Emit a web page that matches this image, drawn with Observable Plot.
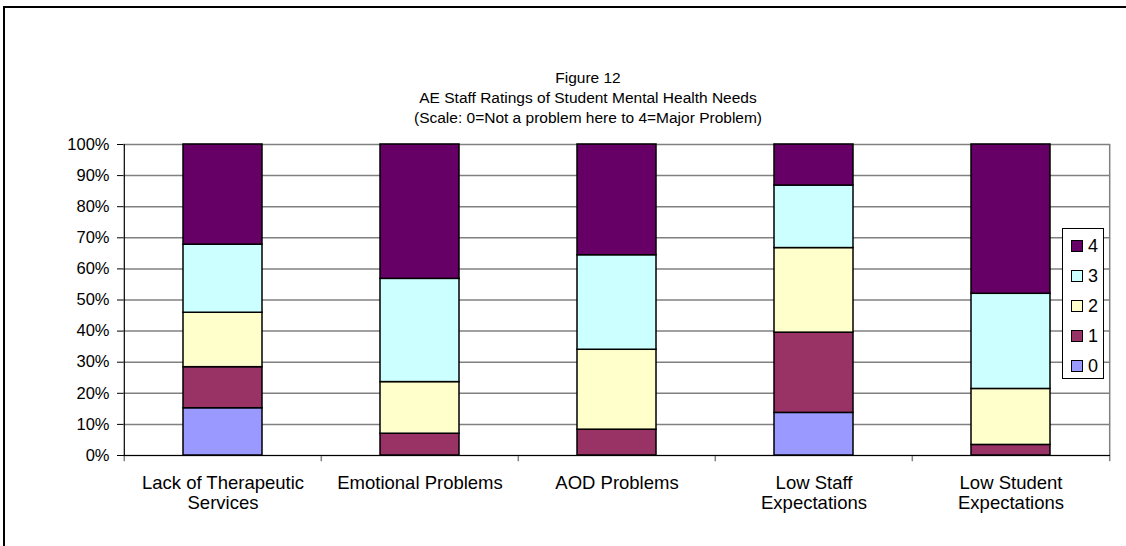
<!DOCTYPE html>
<html>
<head>
<meta charset="utf-8">
<script src="https://cdn.jsdelivr.net/npm/d3@7"></script>
<script src="https://cdn.jsdelivr.net/npm/@observablehq/plot@0.6"></script>
<style>
  html, body { margin: 0; padding: 0; background: #fff; }
  #wrap { position: relative; width: 1126px; height: 546px; overflow: hidden; font-family: "Liberation Sans", Arial, sans-serif; color: #000; }
  #border { position: absolute; left: 3px; top: 6px; width: 1300px; height: 700px; border-left: 2px solid #000; border-top: 2px solid #000; }
  #title { position: absolute; left: 288px; width: 600px; top: 68px; text-align: center; font-size: 15.5px; line-height: 20px; }
  #chart { position: absolute; left: 0; top: 0; }
  #legend { position: absolute; left: 1062px; top: 228px; width: 42px; height: 151px; border: 1px solid #000; background: #fff; box-sizing: border-box; }
  .item { position: absolute; left: 8px; height: 20px; font-size: 18px; line-height: 20px; }
  .sw { position: absolute; left: 0; top: 4px; width: 10px; height: 10px; border: 1.5px solid #000; }
  .lb { position: absolute; left: 17px; top: 0; }
</style>
</head>
<body>
<div id="wrap">
  <div id="border"></div>
  <div id="title"></div>
  <div id="chart"></div>
  <div id="legend"></div>
</div>
<script>
const titleLines = [
  "Figure 12",
  "AE Staff Ratings of Student Mental Health Needs",
  "(Scale: 0=Not a problem here to 4=Major Problem)"
];
const categories = [
  "Lack of Therapeutic Services",
  "Emotional Problems",
  "AOD Problems",
  "Low Staff Expectations",
  "Low Student Expectations"
];
const categoryLabels = [
  "Lack of Therapeutic\nServices",
  "Emotional Problems",
  "AOD Problems",
  "Low Staff\nExpectations",
  "Low Student\nExpectations"
];
const ratings = ["0", "1", "2", "3", "4"];
const ratingColors = ["#9999FF", "#993366", "#FFFFCC", "#CCFFFF", "#660066"];
// percent of respondents per rating, per category
const rating0 = [15.2, 0, 0, 13.7, 0];
const rating1 = [13.2, 7.0, 8.3, 25.8, 3.4];
const rating2 = [17.5, 16.6, 25.7, 27.2, 18.0];
const rating3 = [21.9, 33.2, 30.4, 20.1, 30.6];
const rating4 = [32.2, 43.2, 35.6, 13.2, 48.0];
const yTicks = [0, 10, 20, 30, 40, 50, 60, 70, 80, 90, 100];

const series = [rating0, rating1, rating2, rating3, rating4];
const data = categories.flatMap((c, i) =>
  series.map((s, k) => ({cat: c, rating: ratings[k], value: s[i]}))
).filter(d => d.value > 0);

document.getElementById("title").innerHTML = titleLines.map(t => `<div>${t}</div>`).join("");

const W = 1126, H = 546, mL = 123, mR = 16, mT = 144, mB = 91;
const step = (W - mL - mR) / categories.length;
const last = categories[categories.length - 1];

const chart = Plot.plot({
  width: W, height: H,
  marginTop: mT, marginBottom: mB, marginLeft: mL, marginRight: mR,
  style: {fontFamily: "'Liberation Sans', Arial, sans-serif", background: "transparent", color: "#000", overflow: "visible"},
  x: {domain: categories, paddingInner: 0.6, paddingOuter: 0.3, axis: null, label: null},
  y: {domain: [0, 100], axis: null, label: null},
  color: {domain: ratings, range: ratingColors},
  marks: [
    Plot.gridY(yTicks, {stroke: "#808080", strokeOpacity: 1, strokeWidth: 1.5}),
    Plot.ruleX([last], {dx: step / 2, y1: 0, y2: 100, stroke: "#808080", strokeWidth: 1.5}),
    Plot.ruleX(categories, {dx: -step / 2, y1: 0, y2: -2, stroke: "#808080", strokeWidth: 1.5}),
    Plot.ruleX([last], {dx: step / 2, y1: 0, y2: -2, stroke: "#808080", strokeWidth: 1.5}),
    Plot.barY(data, {x: "cat", y: "value", fill: "rating", stroke: "#000", strokeWidth: 1.5}),
    Plot.ruleY([0], {stroke: "#000", strokeWidth: 1.2}),
    Plot.ruleX([categories[0]], {dx: -step / 2, y1: 0, y2: 100, stroke: "#000", strokeWidth: 1.2}),
    Plot.axisY(yTicks, {anchor: "left", label: null, tickSize: 6, tickPadding: 8, tickFormat: d => d + "%", fontSize: 16.5, stroke: "#000"}),
    Plot.axisX({label: null, tickSize: 0, tickPadding: 19, fontSize: 18.5, lineHeight: 1.1,
      tickFormat: d => categoryLabels[categories.indexOf(d)]})
  ]
});
document.getElementById("chart").appendChild(chart);

const legend = document.getElementById("legend");
ratings.slice().reverse().forEach((r, j) => {
  const it = document.createElement("div");
  it.className = "item";
  it.style.top = (7 + j * 30) + "px";
  it.innerHTML = `<div class="sw" style="background:${ratingColors[ratings.indexOf(r)]}"></div><div class="lb">${r}</div>`;
  legend.appendChild(it);
});
</script>
</body>
</html>
